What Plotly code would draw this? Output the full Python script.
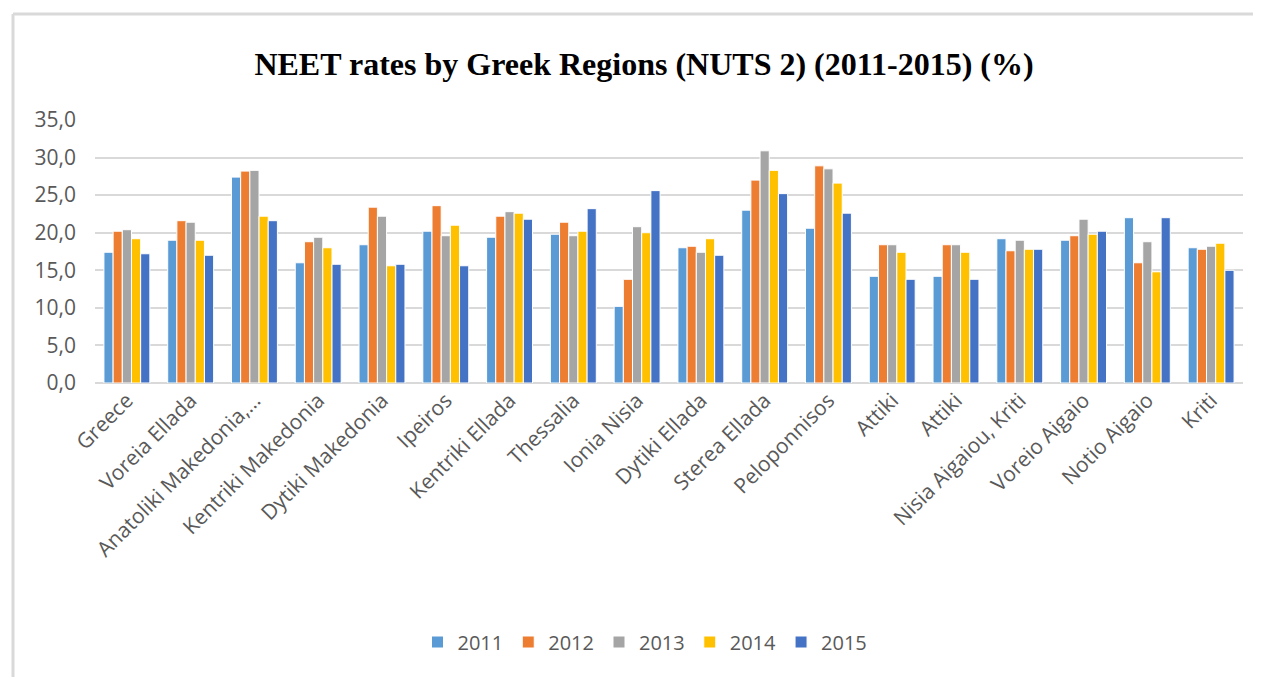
import plotly.graph_objects as go

# NEET rates (%) by Greek NUTS 2 region
regions = ["Greece", "Voreia Ellada", "Anatoliki Makedonia,…", "Kentriki Makedonia",
           "Dytiki Makedonia", "Ipeiros", "Kentriki Ellada", "Thessalia", "Ionia Nisia",
           "Dytiki Ellada", "Sterea Ellada", "Peloponnisos", "Attiki", "Attiki",
           "Nisia Aigaiou, Kriti", "Voreio Aigaio", "Notio Aigaio", "Kriti"]

y2011 = [17.4, 19.0, 27.4, 16.0, 18.4, 20.2, 19.4, 19.8, 10.2, 18.0, 23.0, 20.6, 14.2, 14.2, 19.2, 19.0, 22.0, 18.0]
y2012 = [20.2, 21.6, 28.2, 18.8, 23.4, 23.6, 22.2, 21.4, 13.8, 18.2, 27.0, 28.9, 18.4, 18.4, 17.6, 19.6, 16.0, 17.8]
y2013 = [20.4, 21.4, 28.3, 19.4, 22.2, 19.6, 22.8, 19.6, 20.8, 17.4, 30.9, 28.5, 18.4, 18.4, 19.0, 21.8, 18.8, 18.2]
y2014 = [19.2, 19.0, 22.2, 18.0, 15.6, 21.0, 22.6, 20.2, 20.0, 19.2, 28.3, 26.6, 17.4, 17.4, 17.8, 19.8, 14.8, 18.6]
y2015 = [17.2, 17.0, 21.6, 15.8, 15.8, 15.6, 21.8, 23.2, 25.6, 17.0, 25.2, 22.6, 13.8, 13.8, 17.8, 20.2, 22.0, 15.0]

years = ["2011", "2012", "2013", "2014", "2015"]
series = [y2011, y2012, y2013, y2014, y2015]
colors = ["#5B9BD5", "#ED7D31", "#A5A5A5", "#FFC000", "#4472C4"]

# numeric positions so that the duplicated "Attiki" keeps its own slot
xpos = list(range(len(regions)))

fig = go.Figure()
for name, vals, col in zip(years, series, colors):
    fig.add_trace(go.Bar(
        x=xpos, y=vals, name=name,
        marker=dict(color=col, line=dict(color="white", width=1)),
    ))

# page body has an 8px margin, so the figure starts 8px in
OFF = 8
W, H = 1261 - OFF, 677 - OFF
L, R, T, B = 95 - OFF, 18, 120 - OFF, 294
pw, ph = W - L - R, H - T - B


def px_x(p):
    # screen pixel -> paper x
    return (p - OFF - L) / pw


def px_y(p):
    # screen pixel -> paper y
    return (H - B - (p - OFF)) / ph


fig.update_layout(
    width=W, height=H,
    margin=dict(l=L, r=R, t=T, b=B),
    plot_bgcolor="white", paper_bgcolor="white",
    separators=",.",
    barmode="group", bargap=0.28, bargroupgap=0,
    font=dict(family="Open Sans, Liberation Sans, sans-serif", color="#595959"),
    title=dict(
        text="<b>NEET rates by Greek Regions (NUTS 2) (2011-2015) (%)</b>",
        font=dict(family="Liberation Serif, Times New Roman, serif", size=32, color="black"),
        x=(644 - OFF) / W, xanchor="center", y=1 - (64 - OFF) / H, yanchor="middle",
        xref="container", yref="container",
    ),
    xaxis=dict(
        tickmode="array", tickvals=xpos, ticktext=regions,
        tickangle=-45, tickfont=dict(size=21, color="#595959"),
        range=[-0.5, len(regions) - 0.5],
        showgrid=False, showline=False, zeroline=False, ticks="",
    ),
    yaxis=dict(
        range=[0, 35], dtick=5, tickformat=".1f",
        tickfont=dict(size=21, color="#595959"),
        showgrid=True, gridcolor="#D9D9D9", gridwidth=1.5,
        zeroline=True, zerolinecolor="#D9D9D9", zerolinewidth=1.5,
        showline=False, ticks="", ticklabelstandoff=18,
    ),
    legend=dict(
        orientation="h", x=px_x(645), xanchor="center",
        y=px_y(642), yanchor="middle",
        font=dict(size=20, color="#595959"),
        traceorder="normal", itemwidth=30,
    ),
    shapes=[
        dict(type="line", xref="paper", yref="paper",
             x0=px_x(13), x1=px_x(1270), y0=px_y(14), y1=px_y(14),
             line=dict(color="#D9D9D9", width=3)),
        dict(type="line", xref="paper", yref="paper",
             x0=px_x(13), x1=px_x(13), y0=px_y(14), y1=px_y(690),
             line=dict(color="#D9D9D9", width=3)),
    ],
)

fig.write_html("out.html")
